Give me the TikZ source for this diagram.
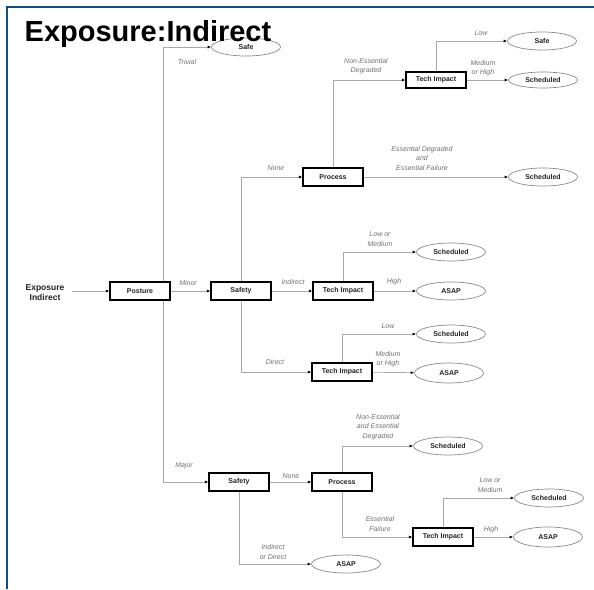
\documentclass[tikz,border=0pt]{standalone}
\usepackage{fontspec}
\setmainfont{Liberation Sans}
\usetikzlibrary{arrows.meta,shapes.geometric}
\definecolor{framebl}{HTML}{0E4F7E}
\definecolor{wire}{HTML}{A8A8A8}
\definecolor{lbl}{HTML}{707070}
\definecolor{txt}{HTML}{222222}
\definecolor{ovl}{HTML}{8A8A8A}
\tikzset{
  stepbox/.style={draw=black, line width=1.1pt, fill=white, minimum width=60pt,
    minimum height=18pt, inner sep=0pt, font=\fontsize{7}{8}\selectfont\bfseries, text=txt},
  outcome/.style={ellipse, draw=ovl, line width=0.7pt, fill=white, minimum width=69pt,
    minimum height=18pt, inner sep=0pt, font=\fontsize{7}{8}\selectfont\bfseries, text=txt},
  branch/.style={font=\fontsize{7}{9.5}\selectfont\itshape, text=lbl, align=center, inner sep=0pt},
  wireline/.style={draw=wire, line width=0.7pt},
  flow/.style={wireline, -{Latex[length=3.5pt,width=3pt,color=black]}},
}
\begin{document}
\begin{tikzpicture}[x=1pt,y=-1pt]
\useasboundingbox (0,0) rectangle (594,589);
% frame lines
\draw[framebl, line width=1.2pt] (6,7) -- (594,7);
\draw[framebl, line width=2.2pt] (6.9,6.4) -- (6.9,589);

% start and first level
\node[font=\fontsize{8.5}{10}\selectfont\bfseries, text=txt, align=center, inner sep=1pt] (expo) at (45,292.5) {Exposure\\Indirect};
\node[stepbox] (posture) at (140,291) {Posture};
\coordinate (trunk) at (163,291);

% minor branch
\node[stepbox] (safetyA) at (241,291) {Safety};
\node[stepbox] (processA) at (333,177) {Process};
\node[stepbox, minimum height=16pt] (techA) at (436,80) {Tech Impact};
\node[stepbox] (techB) at (343,291) {Tech Impact};
\node[stepbox] (techC) at (342,372) {Tech Impact};

% major branch
\node[stepbox] (safetyB) at (239,482) {Safety};
\node[stepbox] (processB) at (342,482) {Process};
\node[stepbox] (techD) at (443,537) {Tech Impact};

% outcomes
\node[outcome] (safeA) at (246,47) {Safe};
\node[outcome] (safeB) at (542,41) {Safe};
\node[outcome, minimum height=16pt] (schedA) at (543,80) {Scheduled};
\node[outcome] (schedB) at (543,177) {Scheduled};
\node[outcome] (schedC) at (451,252) {Scheduled};
\node[outcome] (asapA) at (451,291) {ASAP};
\node[outcome] (schedD) at (451,334) {Scheduled};
\node[outcome, minimum height=20pt] (asapB) at (449,373) {ASAP};
\node[outcome] (schedE) at (448,446) {Scheduled};
\node[outcome] (schedF) at (549,498) {Scheduled};
\node[outcome, minimum height=20pt] (asapC) at (548,537) {ASAP};
\node[outcome] (asapD) at (346,564) {ASAP};

% connectors
\draw[flow] ([xshift=6pt]expo.east |- posture.west) -- (posture.west);
\draw[flow] (posture) -- (safetyA);
\draw[flow] (trunk) |- (safeA.west);
\draw[flow] (trunk) |- (safetyB.west);
\draw[flow] (safetyA.north) |- (processA.west);
\draw[flow] (safetyA) -- (techB);
\draw[flow] (safetyA.south) |- (techC.west);
\draw[flow] (processA.north) |- (techA.west);
\draw[flow] (processA) -- (schedB);
\draw[flow] (techA.north) |- (safeB.west);
\draw[flow] (techA) -- (schedA);
\draw[flow] (techB.north) |- (schedC.west);
\draw[flow] (techB) -- (asapA);
\draw[flow] (techC.north) |- (schedD.west);
\draw[flow] (techC) -- (asapB);
\draw[flow] (safetyB) -- (processB);
\draw[flow] (safetyB.south) |- (asapD.west);
\draw[flow] (processB.north) |- (schedE.west);
\draw[flow] (processB.south) |- (techD.west);
\draw[flow] (techD.north) |- (schedF.west);
\draw[flow] (techD) -- (asapC);
% redraw the posture box over the trunk line
\node[stepbox] at (posture) {Posture};

% branch labels
\node[branch] (lTrivial) at (187,62) {Trivial};
\node[branch] (lNoneA) at (276,168) {None};
\node[branch] (lMinor) at (188,283) {Minor};
\node[branch] (lNonEss) at (366,66) {Non-Essential\\Degraded};
\node[branch] (lLowA) at (481,33) {Low};
\node[branch] (lMedA) at (483,68) {Medium\\or High};
\node[branch] (lEssBoth) at (422,158) {Essential Degraded\\and\\Essential Failure};
\node[branch] (lIndirect) at (293,282) {Indirect};
\node[branch] (lLowMedA) at (380,239) {Low or\\Medium};
\node[branch] (lHighA) at (394,282) {High};
\node[branch] (lDirect) at (275,362) {Direct};
\node[branch] (lLowB) at (388,326) {Low};
\node[branch] (lMedB) at (388,359) {Medium\\or High};
\node[branch] (lMajor) at (184,466) {Major};
\node[branch] (lNoneB) at (291,476) {None};
\node[branch] (lNonEssB) at (378,427) {Non-Essential\\and Essential\\Degraded};
\node[branch] (lEssFail) at (380,524) {Essential\\Failure};
\node[branch] (lLowMedB) at (490,485) {Low or\\Medium};
\node[branch] (lHighB) at (491,530) {High};
\node[branch] (lIndDir) at (273,552) {Indirect\\or Direct};

% title
\node[anchor=base west, inner sep=0pt, font=\fontsize{29}{30}\selectfont\bfseries] (title) at (24.5,41.5) {Exposure:Indirect};
\end{tikzpicture}
\end{document}
